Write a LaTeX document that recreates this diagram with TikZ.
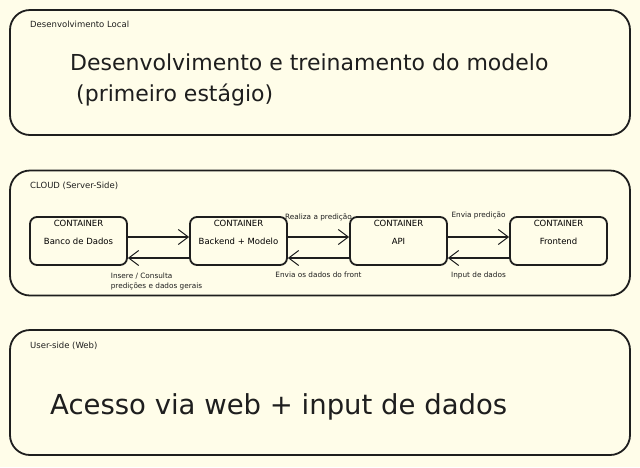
\documentclass[tikz,border=0pt]{standalone}
\usepackage{fontspec}
\setmainfont{DejaVu Sans}
\usetikzlibrary{arrows.meta,positioning}
\tikzset{>={Straight Barb[length=10pt,width=15pt,line width=1pt]}}
\definecolor{paper}{HTML}{FFFDE9}
\definecolor{ink}{HTML}{1E1E1E}

\begin{document}
\begin{tikzpicture}[x=1pt,y=-1pt,
    stage/.style={draw=ink,line width=1.8pt,rounded corners=20pt,minimum width=620pt,minimum height=125pt,inner sep=0pt},
    stagetitle/.style={anchor=base west,font=\fontsize{8.5}{10}\selectfont,text=ink,inner sep=0pt},
    ctr/.style={draw=ink,line width=1.8pt,rounded corners=7pt,minimum width=97pt,minimum height=48pt,inner sep=0pt,font=\fontsize{8.5}{9}\selectfont},
    tag/.style={font=\fontsize{8.5}{9}\selectfont,inner sep=0pt},
    flow/.style={->,draw=ink,line width=1.1pt},
    note/.style={font=\fontsize{7.3}{10}\selectfont,text=ink,inner sep=0pt}]

  \fill[paper] (0,0) rectangle (640,467);
  \useasboundingbox (0,0) rectangle (640,467);

  % three stages
  \node[stage] (local) at (320,72.5) {};
  \node[stage] (cloud) at (320,233) {};
  \node[stage] (web) at (320,392.5) {};

  \node[stagetitle] (localT) at (30,27) {Desenvolvimento Local};
  \node[stagetitle] (cloudT) at (30,188) {CLOUD (Server-Side)};
  \node[stagetitle] (webT) at (30,348) {User-side (Web)};

  \node[anchor=west,align=left,font=\fontsize{22}{31}\selectfont,text=ink,inner sep=0pt] (treino) at (70,80)
    {Desenvolvimento e treinamento do modelo\\\hspace*{6pt}(primeiro estágio)};
  \node[anchor=west,font=\fontsize{27.5}{30}\selectfont,text=ink,inner sep=0pt] (acesso) at (50,407)
    {Acesso via web + input de dados};

  % containers
  \foreach \x/\nm/\txt in {78.5/banco/Banco de Dados,238.5/backend/Backend + Modelo,
                           398.5/api/API,558.5/front/Frontend}{
    \node[ctr] (\nm) at (\x,241) {\raisebox{-4pt}{\txt}};
    \node[tag,below=4pt of \nm.north] (\nm T) {CONTAINER};
  }

  % banco <-> backend
  \draw[flow] ([yshift=4pt]banco.east) -- ([yshift=4pt]backend.west);
  \draw[flow] ([yshift=-17pt]backend.west) -- node[note,below=14pt,xshift=-2pt,align=left] (insere)
    {Insere / Consulta\\predições e dados gerais} ([yshift=-17pt]banco.east);

  % backend <-> api
  \draw[flow] ([yshift=4pt]backend.east) -- node[note,above=15pt] (realiza) {Realiza a predição} ([yshift=4pt]api.west);
  \draw[flow] ([yshift=-17pt]api.west) -- node[note,below=13pt] (enviaDados) {Envia os dados do front} ([yshift=-17pt]backend.east);

  % api <-> front
  \draw[flow] ([yshift=4pt]api.east) -- node[note,above=17pt] (enviaPred) {Envia predição} ([yshift=4pt]front.west);
  \draw[flow] ([yshift=-17pt]front.west) -- node[note,below=13pt] (input) {Input de dados} ([yshift=-17pt]api.east);

\end{tikzpicture}
\end{document}
